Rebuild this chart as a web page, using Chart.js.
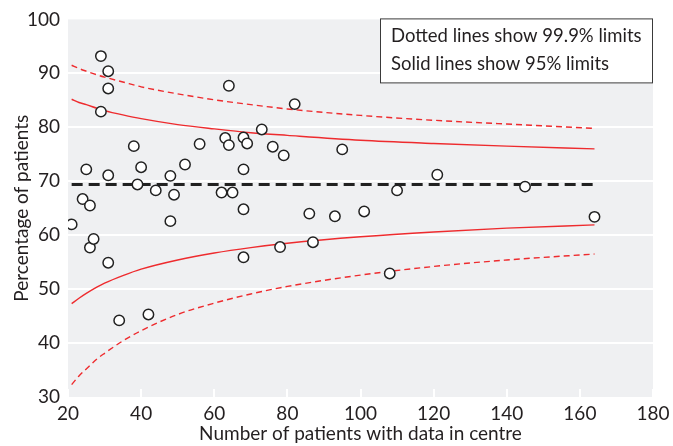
<!DOCTYPE html>
<html>
<head>
<meta charset="utf-8">
<script src="https://cdn.jsdelivr.net/npm/chart.js@4"></script>
<style>
  html, body { margin: 0; padding: 0; background: #ffffff; }
  #wrap { width: 673px; height: 446px; }
</style>
</head>
<body>
<div id="wrap"><canvas id="funnel" width="673" height="446"></canvas></div>
<script>
// Centres: number of patients with data, and percentage achieving the measure
const centreN   = [21, 24, 25, 26, 26, 27, 29, 29, 31, 31, 31, 31, 34, 38, 39, 40, 42, 44, 48, 48, 49, 52, 56, 62, 63, 64, 64, 65, 68, 68, 68, 68, 69, 73, 76, 78, 79, 82, 86, 87, 93, 95, 101, 108, 110, 121, 145, 164];
const centrePct = [62.0, 66.7, 72.2, 65.5, 57.7, 59.3, 93.2, 82.9, 90.4, 87.2, 71.1, 54.9, 44.2, 76.5, 69.4, 72.6, 45.3, 68.3, 71.0, 62.6, 67.5, 73.1, 76.9, 67.9, 78.0, 87.7, 76.7, 67.9, 78.1, 72.2, 64.8, 55.9, 77.0, 79.6, 76.4, 57.8, 74.8, 84.3, 64.0, 58.7, 63.5, 75.9, 64.4, 52.9, 68.3, 71.2, 69.0, 63.4];

// Overall percentage across all centres
const overallPct = 69.4;
const overallRange = [21, 164];

// Control limits at selected centre sizes
const limitN   = [21, 23, 25, 28, 30, 35, 40, 50, 60, 70, 80, 100, 120, 140, 164];
const upper95  = [85.2, 84.6, 84.2, 83.5, 83.1, 82.3, 81.6, 80.5, 79.7, 79.0, 78.5, 77.6, 77.0, 76.5, 76.0];
const lower95  = [47.3, 48.3, 49.2, 50.4, 51.1, 52.5, 53.7, 55.4, 56.7, 57.7, 58.5, 59.7, 60.6, 61.3, 61.9];
const upper999 = [91.5, 90.9, 90.4, 89.7, 89.3, 88.4, 87.5, 86.2, 85.1, 84.2, 83.4, 82.2, 81.3, 80.6, 79.8];
const lower999 = [32.3, 33.9, 35.2, 37.1, 38.1, 40.4, 42.3, 45.3, 47.4, 49.1, 50.5, 52.6, 54.2, 55.4, 56.5];

// Axis ranges and tick steps
const xTicks = { min: 20, max: 180, step: 20 };
const yTicks = { min: 30, max: 100, step: 10 };

const noteLines = ['Dotted lines show 99.9% limits', 'Solid lines show 95% limits'];

const FONT = 'Lato';
const INK = '#231f20';
const RED = '#ee2b2e';

const toPoints = (xs, ys) => xs.map((x, i) => ({ x, y: ys[i] }));

// Grey panel behind the plot, and short white ticks along its bottom edge
const panel = {
  id: 'panel',
  beforeDraw(chart) {
    const { ctx, chartArea: a } = chart;
    ctx.save();
    ctx.fillStyle = '#eff0f2';
    ctx.fillRect(a.left, a.top, a.right - a.left, a.bottom - a.top);
    ctx.restore();
  },
  beforeDatasetsDraw(chart) {
    const { ctx, chartArea: a } = chart;
    const xs = chart.scales.x;
    ctx.save();
    ctx.strokeStyle = '#ffffff';
    ctx.lineWidth = 2;
    xs.ticks.forEach(t => {
      const px = Math.round(xs.getPixelForValue(t.value));
      ctx.beginPath();
      ctx.moveTo(px, a.bottom - 8);
      ctx.lineTo(px, a.bottom);
      ctx.stroke();
    });
    ctx.restore();
  }
};

// Boxed note in the top-right corner
const note = {
  id: 'note',
  afterDraw(chart) {
    const { ctx, chartArea: a } = chart;
    const x0 = a.right - 273, y0 = a.top - 1, w = 273, h = 65;
    ctx.save();
    ctx.fillStyle = '#ffffff';
    ctx.fillRect(x0, y0, w, h);
    ctx.strokeStyle = '#3a3a3a';
    ctx.lineWidth = 1;
    ctx.strokeRect(x0 + 0.5, y0 + 0.5, w - 1, h - 1);
    ctx.fillStyle = INK;
    ctx.font = '18.5px ' + FONT;
    ctx.textBaseline = 'alphabetic';
    ctx.textAlign = 'left';
    ctx.fillText(noteLines[0], x0 + 11, y0 + 24);
    ctx.fillText(noteLines[1], x0 + 11, y0 + 52);
    ctx.restore();
  }
};

const limitStyle = (dashed) => ({
  showLine: true,
  borderColor: RED,
  borderWidth: 1.4,
  borderDash: dashed ? [6, 4] : [],
  pointRadius: 0,
  pointHoverRadius: 0,
  fill: false,
  cubicInterpolationMode: 'monotone',
  order: 2
});

new Chart(document.getElementById('funnel'), {
  type: 'scatter',
  data: {
    datasets: [
      {
        label: 'Centres',
        data: toPoints(centreN, centrePct),
        pointRadius: 5.2,
        pointHoverRadius: 5.2,
        pointBackgroundColor: '#ffffff',
        pointBorderColor: '#222222',
        pointBorderWidth: 1.5,
        showLine: false,
        order: 0
      },
      {
        label: 'Overall',
        data: toPoints(overallRange, [overallPct, overallPct]),
        showLine: true,
        borderColor: '#222222',
        borderWidth: 3,
        borderDash: [11, 6],
        pointRadius: 0,
        pointHoverRadius: 0,
        order: 1
      },
      Object.assign({ label: 'Upper 95%', data: toPoints(limitN, upper95) }, limitStyle(false)),
      Object.assign({ label: 'Lower 95%', data: toPoints(limitN, lower95) }, limitStyle(false)),
      Object.assign({ label: 'Upper 99.9%', data: toPoints(limitN, upper999) }, limitStyle(true)),
      Object.assign({ label: 'Lower 99.9%', data: toPoints(limitN, lower999) }, limitStyle(true))
    ]
  },
  options: {
    responsive: false,
    animation: false,
    layout: { padding: { top: 19, right: 20, left: 0, bottom: 0 } },
    plugins: {
      legend: { display: false },
      tooltip: { enabled: false },
      title: { display: false }
    },
    scales: {
      x: {
        type: 'linear',
        min: xTicks.min,
        max: xTicks.max,
        ticks: { stepSize: xTicks.step, color: INK, font: { family: FONT, size: 19 }, padding: -3 },
        grid: { display: false },
        border: { display: false },
        title: {
          display: true,
          text: 'Number of patients with data in centre',
          color: INK,
          font: { family: FONT, size: 19 },
          padding: { top: 0, bottom: 1 }
        },
        afterFit(scale) { scale.height = 49; }
      },
      y: {
        type: 'linear',
        min: yTicks.min,
        max: yTicks.max,
        ticks: { stepSize: yTicks.step, color: INK, font: { family: FONT, size: 19 }, padding: 8 },
        grid: {
          drawTicks: false,
          lineWidth: 2,
          color: (c) => (c.tick && (c.tick.value === yTicks.min || c.tick.value === yTicks.max)) ? 'rgba(0,0,0,0)' : '#ffffff'
        },
        border: { display: false },
        title: {
          display: true,
          text: 'Percentage of patients',
          color: INK,
          font: { family: FONT, size: 19 },
          padding: { top: 10, bottom: 0 }
        },
        afterFit(scale) { scale.width = 68; }
      }
    }
  },
  plugins: [panel, note]
});
</script>
</body>
</html>
